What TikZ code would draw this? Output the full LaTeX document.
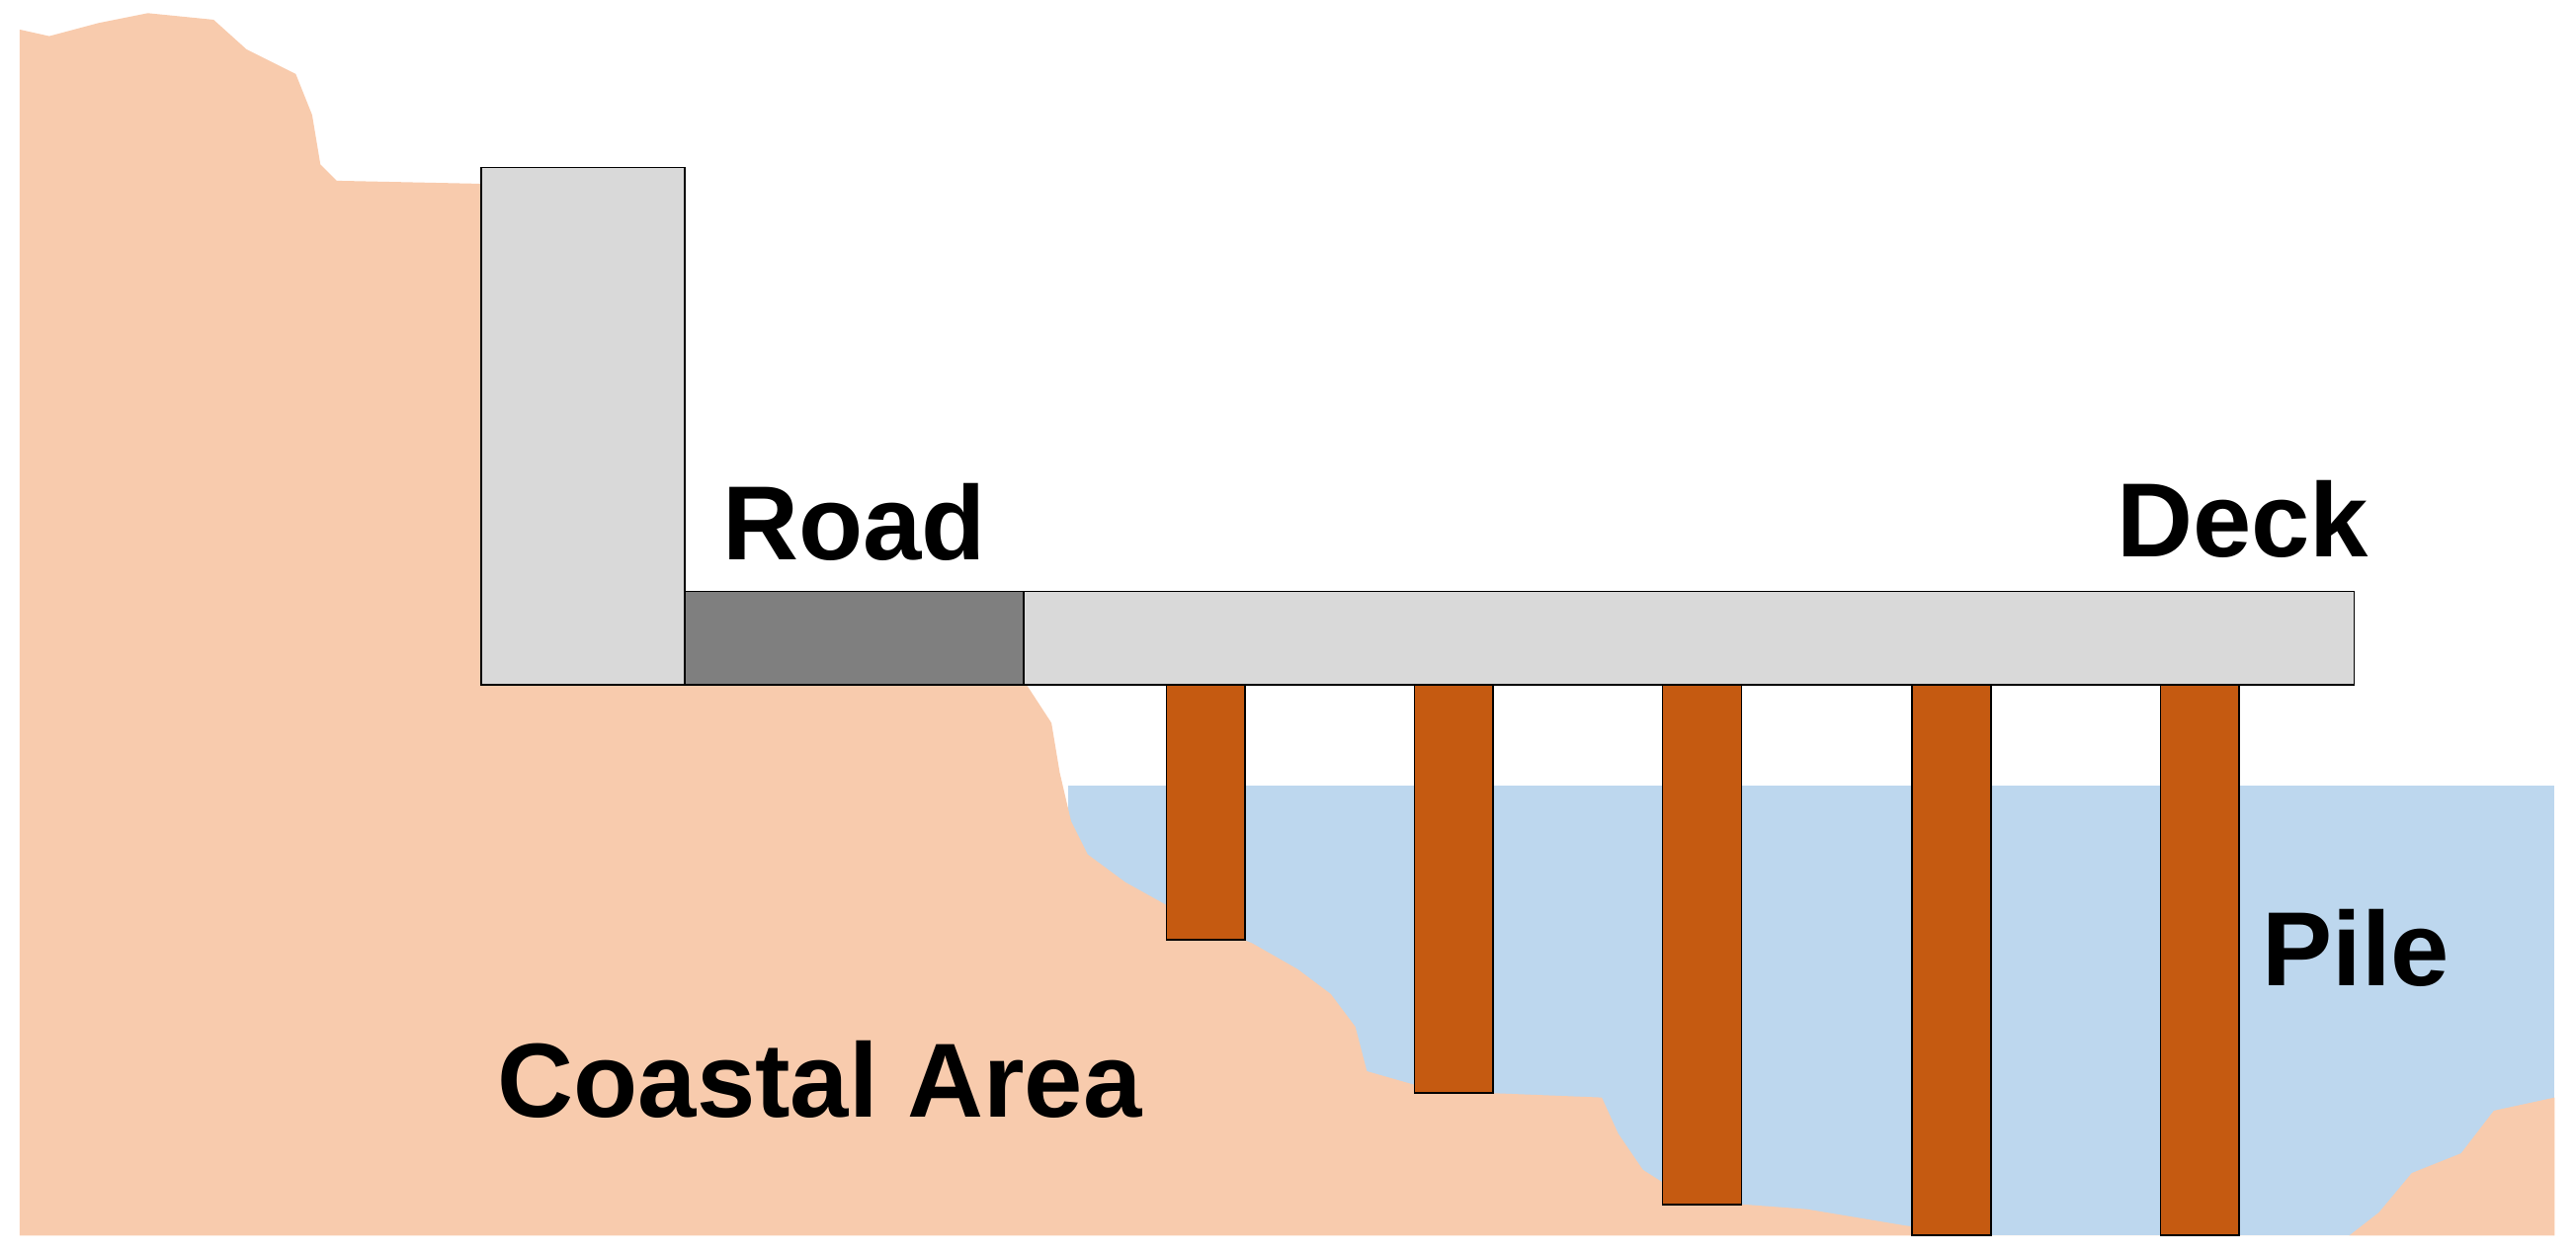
\documentclass[tikz,border=0pt]{standalone}
\usepackage{fontspec}
\setmainfont{Liberation Sans}
\begin{document}
\begin{tikzpicture}[x=0.02cm,y=-0.02cm,
  lbl/.style={font=\bfseries\fontsize{36.5}{40}\selectfont,text=black,inner sep=0},
  box/.style={draw=black,line width=0.6pt}]
\definecolor{land}{HTML}{F8CBAD}
\definecolor{water}{HTML}{BDD7EE}
\definecolor{pile}{HTML}{C55A11}
\definecolor{conc}{HTML}{D9D9D9}
\definecolor{road}{HTML}{7F7F7F}
\useasboundingbox (0,0) rectangle (1568,763);
\fill[water] (650,478) rectangle (1555,752);
\fill[land] (12,18) -- (30,22) -- (60,14) -- (90,8) -- (130,12) -- (150,30) -- (180,45) -- (190,70) -- (195,100) -- (205,110) -- (300,112) -- (300,417) -- (625,417) -- (640,440) -- (645,470) -- (652,500) -- (662,520) -- (685,537) -- (712,552) -- (740,565) -- (762,574) -- (790,590) -- (810,605) -- (825,625) -- (832,652) -- (860,660) -- (900,665) -- (975,668) -- (985,690) -- (1000,712) -- (1022,726) -- (1060,733) -- (1100,736) -- (1160,746) -- (1210,752) -- (1430,752) -- (1448,738) -- (1468,714) -- (1498,702) -- (1518,676) -- (1555,668) -- (1555,752) -- (12,752) -- cycle;
\draw[box,fill=conc] (293,102) rectangle (417,417);
\draw[box,fill=road] (417,360) rectangle (623,417);
\draw[box,fill=conc] (623,360) rectangle (1433,417);
\foreach \a/\b in {710/572,861/665,1012/733,1164/752,1315/752}
  \draw[box,fill=pile] (\a,417) rectangle (\a+48,\b);
\node[lbl] (roadl) at (520,318) {Road};
\node[lbl] (deckl) at (1365,316) {Deck};
\node[lbl] (pilel) at (1434,577) {Pile};
\node[lbl] (coast) at (499,657) {Coastal Area};
\end{tikzpicture}
\end{document}
